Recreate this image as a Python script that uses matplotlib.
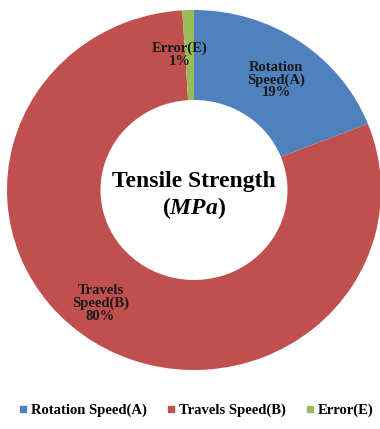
import matplotlib.pyplot as plt
from matplotlib.lines import Line2D

plt.rcParams['font.family'] = 'Liberation Serif'
plt.rcParams['mathtext.fontset'] = 'custom'
plt.rcParams['mathtext.it'] = 'Liberation Serif:italic:bold'
plt.rcParams['mathtext.rm'] = 'Liberation Serif:bold'

factors = ['Rotation Speed(A)', 'Travels Speed(B)', 'Error(E)']
shares = [19, 80, 1]
colors = ['#4F81BD', '#C0504D', '#9BBB59']
slice_labels = ['Rotation\nSpeed(A)', 'Travels\nSpeed(B)', 'Error(E)']
label_pos = [(0.44, 0.61), (-0.50, -0.63), (-0.075, 0.75)]

fig = plt.figure(figsize=(3.8, 4.29), dpi=100)
ax = fig.add_axes([7 / 380, 59 / 429, 374 / 380, 360 / 429])

wedges, _ = ax.pie(shares, colors=colors, startangle=90, counterclock=False,
                   radius=1, wedgeprops=dict(width=0.5, linewidth=0))

for lab, val, (x, y) in zip(slice_labels, shares, label_pos):
    ax.text(x, y, f'{lab}\n{val}%', ha='center', va='center',
            fontsize=10.5, fontweight='bold', color='#1a1a1a', linespacing=0.95)

ax.text(0, 0.045, 'Tensile Strength', ha='center', va='center',
        fontsize=17, fontweight='bold')
ax.text(0, -0.1, r'($\mathit{MPa}$)', ha='center', va='center',
        fontsize=17, fontweight='bold')

ax.set_xlim(-1, 1)
ax.set_ylim(-1, 1)
ax.set_aspect('auto')
ax.axis('off')

handles = [Line2D([], [], marker='s', linestyle='none', markersize=4,
                  markerfacecolor=c, markeredgecolor=c) for c in colors]
fig.legend(handles, factors, loc='center', bbox_to_anchor=(0.515, 0.044),
           ncol=3, frameon=False, handletextpad=0.15, columnspacing=1.25,
           handlelength=0.8, prop=dict(weight='bold', size=10.5))

fig.savefig('out.png', dpi=100)
